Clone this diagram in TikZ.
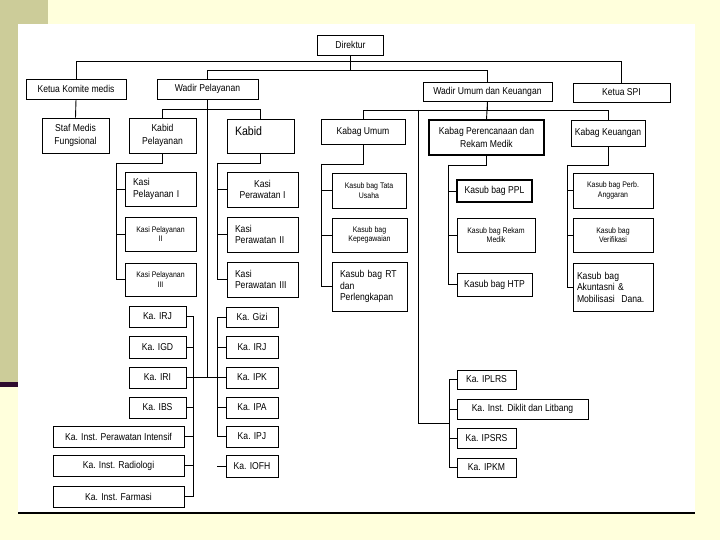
\documentclass[tikz,border=0pt]{standalone}
\usepackage{fontspec}
\setmainfont{Liberation Sans}[FakeStretch=0.86]
\definecolor{slidebg}{HTML}{FFFFDC}
\definecolor{slidekhaki}{HTML}{CCCC99}
\definecolor{slideplum}{HTML}{2E0B2E}
\tikzset{
  unit/.style={draw, line width=0.9pt, inner sep=0pt, align=center, font=\fontsize{10}{13}\selectfont},
  unitl/.style={unit, align=left, text width=#1},
  unitbold/.style={unit, line width=1.6pt},
  small/.style={font=\fontsize{8.1}{9.5}\selectfont},
  link/.style={line width=0.9pt},
}
\begin{document}
\begin{tikzpicture}[x=1pt, y=-1pt]
\useasboundingbox (0,0) rectangle (720,540);
\fill[slidebg] (0,0) rectangle (720,540);
\fill[slidekhaki] (0,0) rectangle (48,24);
\fill[slidekhaki] (0,0) rectangle (18,382);
\fill[slideplum] (0,382) rectangle (18,387);
\fill[white] (18,24) rectangle (695,513);
\draw[line width=2pt] (18,513) -- (695,513);

\node[unit, minimum width=66, minimum height=20] (dir) at (350.5,45){Direktur};
\node[unit, minimum width=100, minimum height=20] (kkm) at (76,89){Ketua Komite medis};
\node[unit, minimum width=101, minimum height=20] (wp) at (207.5,89){Wadir Pelayanan};
\node[unit, minimum width=129, minimum height=19] (wu) at (487.5,91.5){Wadir Umum dan Keuangan};
\node[unit, minimum width=97, minimum height=19] (spi) at (621.5,92.5){Ketua SPI};
\draw[link] (dir.south) -- ++(0,6) -| (kkm.north);
\draw[link] (dir.south) -- ++(0,6) -| (spi.north);
\draw[link] (dir.south) -- ++(0,15) -| (wp.north);
\draw[link] (dir.south) -- ++(0,15) -| (wu.north);

\node[unit, minimum width=67, minimum height=35] (smf) at (75.5,135.5){Staf Medis\\Fungsional};
\draw[link] (kkm.south) -- (smf.north);
\node[unit, minimum width=67, minimum height=35] (kp) at (162.5,135.5){Kabid\\Pelayanan};
\node[unitl=51, minimum width=67, minimum height=34, text depth=10pt, font=\fontsize{12.3}{14}\selectfont] (kb) at (260.5,136){Kabid};
\draw[link] (wp.south) -- ++(0,10) -| (kp.north);
\draw[link] (wp.south) -- ++(0,10) -| (kb.north);

\node[unitl=55, minimum width=71, minimum height=34, font=\fontsize{10}{11.5}\selectfont] (ksp1) at (160.5,189){Kasi\\Pelayanan I};
\node[unit, small, minimum width=71, minimum height=34] (ksp2) at (160.5,234){Kasi Pelayanan\\II};
\node[unit, small, minimum width=71, minimum height=33] (ksp3) at (160.5,279.5){Kasi Pelayanan\\III};
\coordinate (kpbus) at (116,163);
\draw[link] (kp.south) |- (kpbus) |- (ksp3.west);
\draw[link] (kpbus) |- (ksp1.west);
\draw[link] (kpbus) |- (ksp2.west);

\node[unit, minimum width=71, minimum height=35, font=\fontsize{10}{11.5}\selectfont] (kpr1) at (262.5,189.5){Kasi\\Perawatan I};
\node[unitl=55, minimum width=71, minimum height=35, font=\fontsize{10}{11.5}\selectfont] (kpr2) at (262.5,234.5){Kasi\\Perawatan II};
\node[unitl=55, minimum width=71, minimum height=35, font=\fontsize{10}{11.5}\selectfont] (kpr3) at (262.5,279.5){Kasi\\Perawatan III};
\coordinate (kbbus) at (217,163);
\draw[link] (kb.south) |- (kbbus) |- (kpr3.west);
\draw[link] (kbbus) |- (kpr1.west);
\draw[link] (kbbus) |- (kpr2.west);

\node[unit, minimum width=57, minimum height=21] (kirj) at (157.5,316.5){Ka. IRJ};
\node[unit, minimum width=57, minimum height=22] (kigd) at (157.5,347){Ka. IGD};
\node[unit, minimum width=57, minimum height=21] (kiri) at (157.5,377.5){Ka. IRI};
\node[unit, minimum width=57, minimum height=21] (kibs) at (157.5,407.5){Ka. IBS};
\node[unit, minimum width=131, minimum height=21] (kipi) at (118.5,436.5){Ka. Inst. Perawatan Intensif};
\node[unit, minimum width=131, minimum height=21] (kirad) at (118.5,465.5){Ka. Inst. Radiologi};
\node[unit, minimum width=131, minimum height=21] (kifar) at (118.5,496.5){Ka. Inst. Farmasi};
\coordinate (kabus) at (193,0);
\draw[link] (kirj.east) -| (kabus |- kifar.east) -- (kifar.east);
\draw[link] (kigd.east) -- (kigd.east -| kabus);
\draw[link] (kibs.east) -- (kibs.east -| kabus);
\draw[link] (kipi.east) -- (kipi.east -| kabus);
\draw[link] (kirad.east) -- (kirad.east -| kabus);

\node[unit, minimum width=52, minimum height=20] (kgizi) at (252,317){Ka. Gizi};
\node[unit, minimum width=52, minimum height=22] (kirj2) at (252,347){Ka. IRJ};
\node[unit, minimum width=52, minimum height=21] (kipk) at (252,377.5){Ka. IPK};
\node[unit, minimum width=52, minimum height=21] (kipa) at (252,407.5){Ka. IPA};
\node[unit, minimum width=52, minimum height=21] (kipj) at (252,436.5){Ka. IPJ};
\node[unit, minimum width=52, minimum height=22] (kiofh) at (252,466){Ka. IOFH};
\coordinate (kbus) at (217,0);
\coordinate (ofhstub) at (217,466);
\draw[link] (kgizi.west) -| (kbus |- kipj.west) -- (kipj.west);
\draw[link] (kirj2.west) -- (kirj2.west -| kbus);
\draw[link] (kipa.west) -- (kipa.west -| kbus);
\draw[link] (kiofh.west) -- (ofhstub);
\draw[link] (wp.south) -- (wp.south |- kiri.east);
\draw[link] (kiri.east) -- (kipk.west);

\node[unit, minimum width=84, minimum height=25] (ku) at (363,132){Kabag Umum};
\node[unit, line width=1.2pt, minimum width=115, minimum height=35] (kprm) at (486.5,137.5){Kabag Perencanaan dan\\Rekam Medik};
\node[unit, minimum width=74, minimum height=26] (kk) at (608,133){Kabag Keuangan};
\draw[link] (wu.south) -- ++(0,9) -| (ku.north);
\draw[link] (wu.south) -- ++(0,9) -| (kk.north);
\draw[link] (wu.south) -- (kprm.north);

\node[unit, small, minimum width=74, minimum height=35] (ktu) at (369,190.5){Kasub bag Tata\\Usaha};
\node[unit, small, minimum width=75, minimum height=34] (kpeg) at (369.5,235){Kasub bag\\Kepegawaian};
\node[unitl=59, minimum width=75, minimum height=49, font=\fontsize{10}{11.5}\selectfont] (krt) at (369.5,286.5){Kasub bag RT\\dan\\Perlengkapan};
\coordinate (kubus) at (321,164);
\draw[link] (ku.south) |- (kubus) |- (krt.west);
\draw[link] (kubus) |- (ktu.west);
\draw[link] (kubus) |- (kpeg.west);

\node[unitbold, minimum width=75, minimum height=22] (kppl) at (494.5,191){Kasub bag PPL};
\node[unit, small, minimum width=78, minimum height=34] (krm) at (496,235){Kasub bag Rekam\\Medik};
\node[unit, minimum width=75, minimum height=23] (khtp) at (494.5,284.5){Kasub bag HTP};
\coordinate (kpmbus) at (448,165);
\draw[link] (kprm.south) |- (kpmbus) |- (khtp.west);
\draw[link] (kpmbus) |- (kppl.west);
\draw[link] (kpmbus) |- (krm.west);

\node[unit, small, minimum width=80, minimum height=35] (kpa) at (613,190.5){Kasub bag Perb.\\Anggaran};
\node[unit, small, minimum width=80, minimum height=34] (kver) at (613,235){Kasub bag\\Verifikasi};
\node[unitl=72, minimum width=80, minimum height=48, font=\fontsize{10}{11.5}\selectfont] (kad) at (613,287){Kasub bag\\Akuntasni \&\\Mobilisasi\ \ Dana.};
\coordinate (kkbus) at (567,165);
\draw[link] (kk.south) |- (kkbus) |- (kad.west);
\draw[link] (kkbus) |- (kpa.west);
\draw[link] (kkbus) |- (kver.west);

\node[unit, minimum width=59, minimum height=19] (kiplrs) at (486.5,379.5){Ka. IPLRS};
\node[unit, minimum width=131, minimum height=20] (kdik) at (522.5,409){Ka. Inst. Diklit dan Litbang};
\node[unit, minimum width=59, minimum height=20] (kipsrs) at (486.5,438){Ka. IPSRS};
\node[unit, minimum width=59, minimum height=19] (kipkm) at (486.5,467.5){Ka. IPKM};
\coordinate (wubus) at (418,110);
\coordinate (instbus) at (449,423);
\draw[link] (wubus) |- (instbus);
\draw[link] (instbus) |- (kiplrs.west);
\draw[link] (instbus) |- (kipkm.west);
\draw[link] (instbus |- kdik.west) -- (kdik.west);
\draw[link] (instbus |- kipsrs.west) -- (kipsrs.west);

\end{tikzpicture}
\end{document}
